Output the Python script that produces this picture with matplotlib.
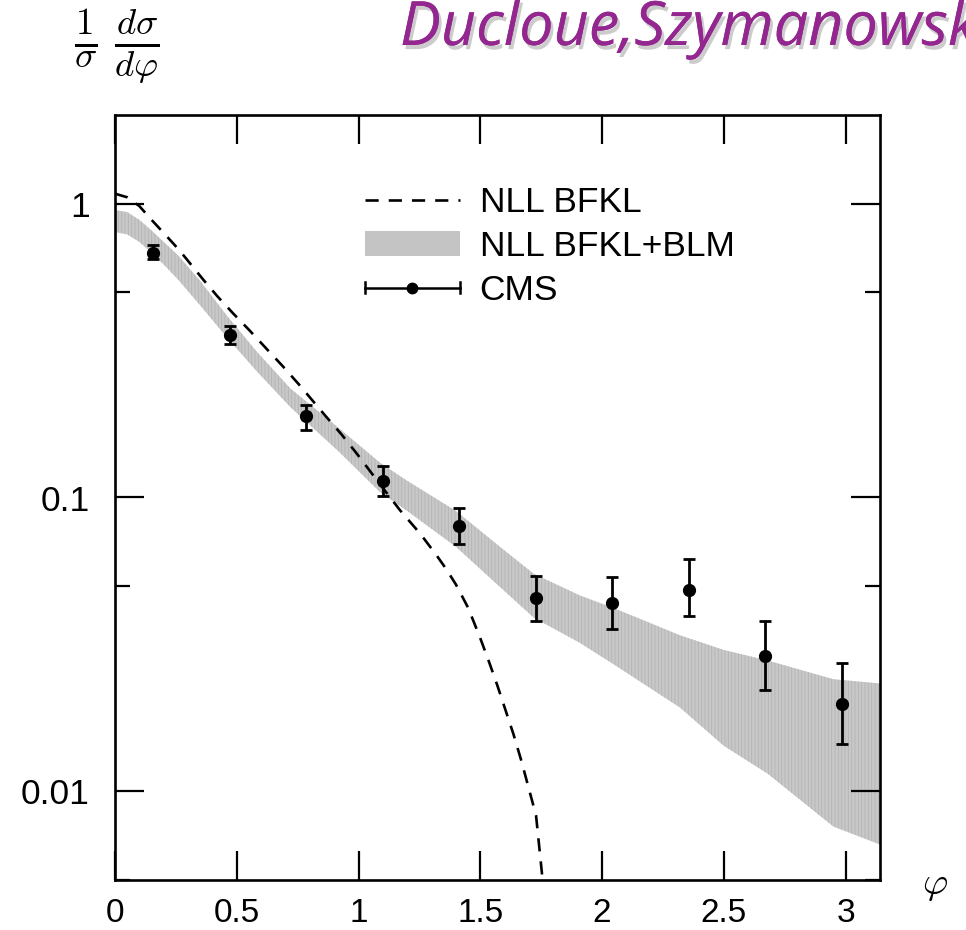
import matplotlib
matplotlib.use("Agg")
import matplotlib.pyplot as plt
import matplotlib.patheffects as pe
from matplotlib.lines import Line2D
from matplotlib.patches import Patch
from matplotlib.legend_handler import HandlerBase
from matplotlib.ticker import FixedLocator, FixedFormatter, NullLocator
import numpy as np

plt.rcParams['font.family'] = ['Liberation Sans', 'DejaVu Sans']
plt.rcParams['mathtext.fontset'] = 'cm'
plt.rcParams['hatch.linewidth'] = 0.6
plt.rcParams['hatch.color'] = '#b4b4b4'

# CMS azimuthal decorrelation data
cms_phi = (2 * np.arange(10) + 1) * np.pi / 20
cms_val = [0.68, 0.356, 0.189, 0.114, 0.080, 0.0455, 0.0437, 0.0486, 0.0288, 0.0199]
cms_err_hi = [0.041, 0.026, 0.017, 0.0135, 0.012, 0.0085, 0.0098, 0.013, 0.0092, 0.0075]
cms_err_lo = [0.034, 0.022, 0.019, 0.0125, 0.0105, 0.0074, 0.0081, 0.0091, 0.0067, 0.0054]

# NLL BFKL prediction
bfkl_phi = [0.0, 0.05, 0.10, 0.15, 0.20, 0.26, 0.30, 0.363, 0.42, 0.486, 0.55, 0.623,
            0.69, 0.76, 0.856, 0.93, 0.993, 1.088, 1.17, 1.253, 1.318, 1.359, 1.400,
            1.450, 1.499, 1.536, 1.569, 1.602, 1.636, 1.669, 1.704, 1.729, 1.752, 1.760]
bfkl_val = [1.08, 1.05, 0.98, 0.88, 0.794, 0.70, 0.638, 0.55, 0.484, 0.422, 0.372, 0.32,
            0.279, 0.240, 0.193, 0.164, 0.141, 0.111, 0.0906, 0.0754, 0.0640, 0.0573, 0.0506,
            0.0422, 0.0334, 0.0276, 0.0231, 0.0191, 0.0157, 0.0127, 0.0099, 0.0083, 0.0054, 0.0046]

# NLL BFKL + BLM uncertainty band
band_phi = [0.00, 0.05, 0.10, 0.15, 0.20, 0.26, 0.35, 0.46, 0.58, 0.72, 0.92, 1.09,
            1.20, 1.40, 1.60, 1.72, 1.91, 2.05, 2.32, 2.50, 2.68, 2.95, np.pi]
band_hi = [0.95, 0.935, 0.88, 0.81, 0.74, 0.665, 0.545, 0.415, 0.315, 0.235, 0.172, 0.131,
           0.114, 0.090, 0.066, 0.055, 0.0464, 0.042, 0.034, 0.0303, 0.0279, 0.0241, 0.0233]
band_lo = [0.80, 0.785, 0.74, 0.68, 0.62, 0.55, 0.45, 0.35, 0.27, 0.203, 0.143, 0.104,
           0.090, 0.068, 0.048, 0.039, 0.032, 0.027, 0.0193, 0.0143, 0.0115, 0.0076, 0.0066]

x_ticks = [0, 0.5, 1, 1.5, 2, 2.5, 3]
x_labels = ['0', '0.5', '1', '1.5', '2', '2.5', '3']
y_ticks = [0.01, 0.1, 1]
y_labels = ['0.01', '0.1', '1']
y_minor = [0.005, 0.05, 0.5]

legend_labels = ['NLL BFKL', 'NLL BFKL+BLM', 'CMS']
title_text = 'Ducloue,Szymanowski,Wallon'

FS = 25.5

fig = plt.figure(figsize=(9.66, 9.3), dpi=100)
ax = fig.add_axes([115 / 966, 1 - 880 / 930, 765 / 966, 765 / 930])

ax.set_yscale('log')
ax.set_xlim(0, np.pi)
ax.set_ylim(0.005, 2)

ax.fill_between(band_phi, band_lo, band_hi, facecolor='#c8c8c8', edgecolor='none',
                hatch='|||||', lw=0, zorder=1)
ax.plot(bfkl_phi, bfkl_val, color='black', lw=1.9, dashes=(5, 3.8), zorder=3)
ax.errorbar(cms_phi, cms_val, yerr=[cms_err_lo, cms_err_hi], fmt='o', color='black',
            ms=8.5, elinewidth=2.0, capsize=4.2, capthick=2.0, zorder=4)

ax.xaxis.set_major_locator(FixedLocator(x_ticks))
ax.xaxis.set_major_formatter(FixedFormatter(x_labels))
ax.xaxis.set_minor_locator(NullLocator())
ax.yaxis.set_major_locator(FixedLocator(y_ticks))
ax.yaxis.set_major_formatter(FixedFormatter(y_labels))
ax.yaxis.set_minor_locator(FixedLocator(y_minor))

ax.tick_params(which='major', direction='in', length=21, width=1.6, top=True, right=True,
               labelsize=FS)
ax.tick_params(which='minor', direction='in', length=10.5, width=1.6, top=True, right=True)
ax.tick_params(axis='x', which='major', pad=13, labelsize=24)
ax.tick_params(axis='y', which='major', pad=18)
for s in ax.spines.values():
    s.set_linewidth(1.9)


class HorizontalErrHandler(HandlerBase):
    def create_artists(self, legend, orig_handle, xdescent, ydescent, width, height,
                       fontsize, trans):
        y = height / 2 - ydescent
        x0 = -xdescent
        x1 = x0 + width
        cap = 4.0
        arts = [
            Line2D([x0, x1], [y, y], color='black', lw=1.8),
            Line2D([x0, x0], [y - cap, y + cap], color='black', lw=1.8),
            Line2D([x1, x1], [y - cap, y + cap], color='black', lw=1.8),
            Line2D([(x0 + x1) / 2], [y], marker='o', ms=7.5, color='black', lw=0),
        ]
        for a in arts:
            a.set_transform(trans)
        return arts


class CMSProxy:
    pass


h_line = Line2D([], [], color='black', lw=1.9, dashes=(5, 3.8))
h_band = Patch(facecolor='#c4c4c4', edgecolor='none')
h_cms = CMSProxy()
ax.legend([h_line, h_band, h_cms], legend_labels,
          handler_map={CMSProxy: HorizontalErrHandler()},
          loc='upper left', bbox_to_anchor=(0.327, 0.907), frameon=False,
          fontsize=FS, handlelength=2.67, handletextpad=0.56, labelspacing=0.31,
          borderpad=0, borderaxespad=0, handleheight=0.7)

fig.text(935 / 966, 1 - 885 / 930, r'$\varphi$', fontsize=28, ha='center', va='center')
fig.text(74 / 966, 1 - 46 / 930, r'$\frac{1}{\sigma}\;\frac{d\sigma}{d\varphi}$',
         fontsize=38, ha='left', va='center')

fig.text(400 / 966, 1 - 45 / 930, title_text, fontsize=44, style='italic',
         color='#93278f', ha='left', va='baseline', family=['Open Sans', 'DejaVu Sans'],
         path_effects=[pe.withSimplePatchShadow(offset=(2, -3), shadow_rgbFace='#808080',
                                                 alpha=0.4), pe.Normal()])

fig.savefig('out.png', dpi=100)
